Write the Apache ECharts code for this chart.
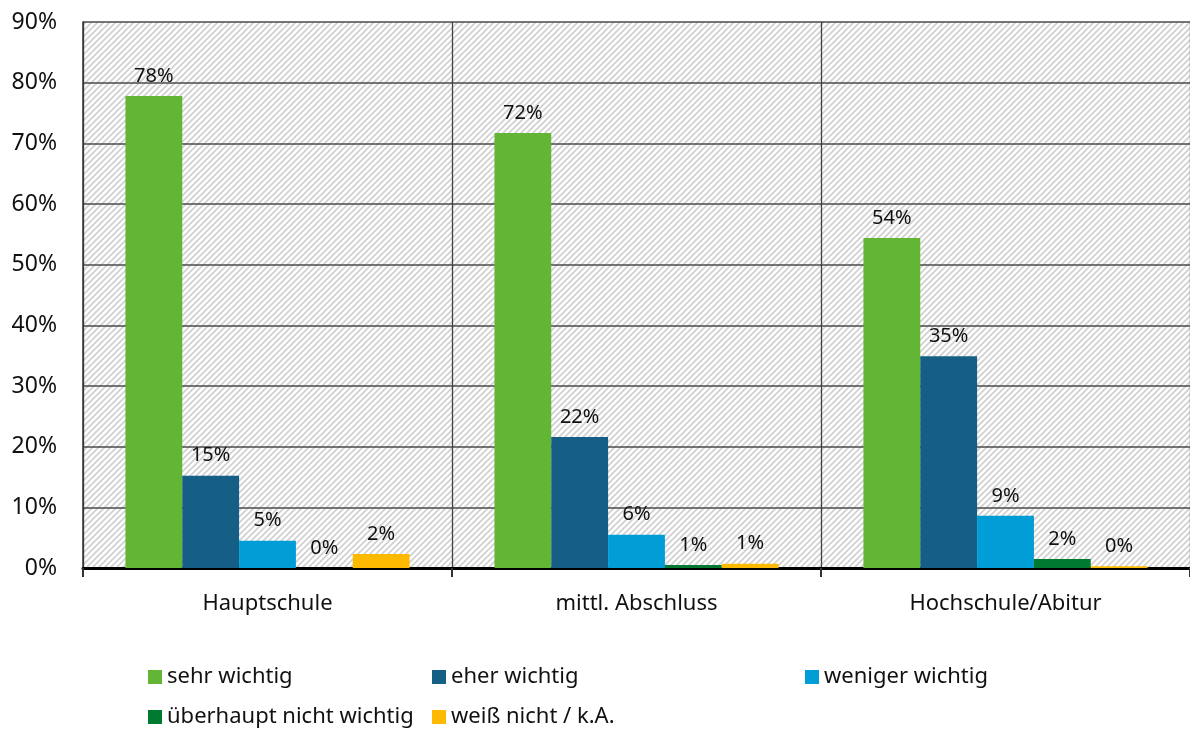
<!DOCTYPE html>
<html>
<head>
<meta charset="utf-8">
<script src="https://cdn.jsdelivr.net/npm/echarts@6/dist/echarts.min.js"></script>
<style>
  html, body { margin: 0; padding: 0; background: #ffffff; }
  #chart { width: 1190px; height: 729px; }
</style>
</head>
<body>
<div id="chart"></div>
<script>
// Schulabschluss groups and answer shares (percent)
const categories = ['Hauptschule', 'mittl. Abschluss', 'Hochschule/Abitur'];
const seriesNames = ['sehr wichtig', 'eher wichtig', 'weniger wichtig', 'überhaupt nicht wichtig', 'weiß nicht / k.A.'];
const sehrWichtig = [77.8, 71.7, 54.4];
const eherWichtig = [15.2, 21.6, 34.9];
const wenigerWichtig = [4.5, 5.5, 8.6];
const ueberhauptNicht = [0.0, 0.5, 1.5];
const weissNicht = [2.3, 0.7, 0.3];
const yTicks = [0, 10, 20, 30, 40, 50, 60, 70, 80, 90];

const seriesValues = [sehrWichtig, eherWichtig, wenigerWichtig, ueberhauptNicht, weissNicht];
const colors = ['#62B535', '#155E85', '#009DD6', '#007A30', '#FDBA00'];
const FONT = '"Noto Sans", sans-serif';

// diagonal hatch used as the plot background
function hatchPattern() {
  const s = 6;
  const c = document.createElement('canvas');
  c.width = s; c.height = s;
  const g = c.getContext('2d');
  g.fillStyle = '#ffffff';
  g.fillRect(0, 0, s, s);
  g.strokeStyle = '#d0d0d0';
  g.lineWidth = 1.7;
  g.beginPath();
  g.moveTo(0, s); g.lineTo(s, 0);
  g.moveTo(-s / 2, s / 2); g.lineTo(s / 2, -s / 2);
  g.moveTo(s / 2, s * 1.5); g.lineTo(s * 1.5, s / 2);
  g.stroke();
  return c;
}

const chart = echarts.init(document.getElementById('chart'), null, { renderer: 'canvas' });

const legendPos = [
  { left: 148, top: 664 },
  { left: 432, top: 664 },
  { left: 805, top: 664 },
  { left: 148, top: 704 },
  { left: 432, top: 704 }
];

const option = {
  animation: false,
  backgroundColor: '#ffffff',
  textStyle: { fontFamily: FONT },
  grid: {
    left: 83, top: 22, right: -4, bottom: 161,
    show: true,
    borderWidth: 0,
    backgroundColor: { image: hatchPattern(), repeat: 'repeat' }
  },
  legend: seriesNames.map((n, i) => ({
    data: [n],
    left: legendPos[i].left,
    top: legendPos[i].top,
    padding: 0,
    itemWidth: 14,
    itemHeight: 14,
    icon: 'rect',
    selectedMode: false,
    textStyle: { fontFamily: FONT, fontSize: 22, color: '#111', lineHeight: 26 }
  })),
  xAxis: {
    type: 'category',
    data: categories,
    axisLine: { show: true, lineStyle: { color: '#000', width: 3 } },
    axisTick: { show: true, length: 9, lineStyle: { color: '#333', width: 2 } },
    splitLine: { show: true, lineStyle: { color: '#404040', width: 1.3 } },
    axisLabel: { fontFamily: FONT, fontSize: 22, color: '#111', margin: 25 }
  },
  yAxis: {
    type: 'value',
    min: yTicks[0],
    max: yTicks[yTicks.length - 1],
    interval: 10,
    axisLine: { show: true, lineStyle: { color: '#333', width: 1.5 } },
    axisTick: { show: false },
    splitLine: { show: true, lineStyle: { color: '#4a4a4a', width: 1.5 } },
    axisLabel: { formatter: '{value}%', fontFamily: FONT, fontSize: 23, color: '#111', margin: 26 }
  },
  series: seriesNames.map((n, i) => ({
    name: n,
    type: 'bar',
    data: seriesValues[i],
    barGap: 0,
    barCategoryGap: '23%',
    itemStyle: { color: colors[i] },
    label: {
      show: true,
      position: 'top',
      distance: 10,
      fontFamily: FONT,
      fontSize: 20,
      color: '#111',
      formatter: p => Math.round(p.value) + '%'
    }
  }))
};

chart.setOption(option);
</script>
</body>
</html>
